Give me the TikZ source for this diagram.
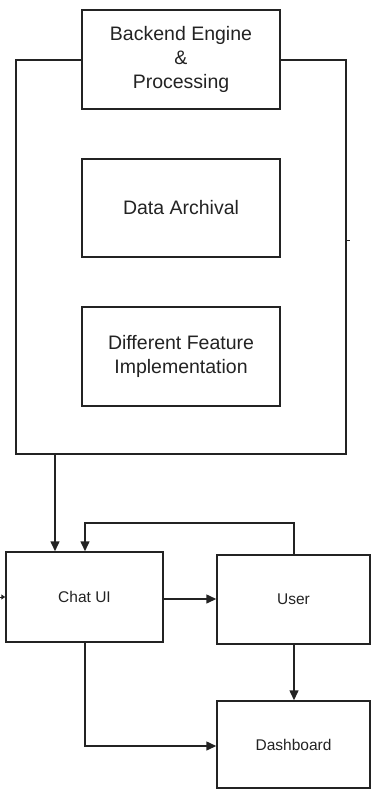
\documentclass[tikz,border=0pt]{standalone}
\usepackage{fontspec}
\setmainfont{Liberation Sans}
\usetikzlibrary{arrows.meta,calc}
\definecolor{ink}{RGB}{35,35,35}
\tikzset{
  box/.style={draw=ink, line width=1.5pt, fill=white, align=center, inner sep=0pt, text=ink},
  bigtext/.style={font=\fontsize{19.5}{24}\selectfont},
  smalltext/.style={font=\fontsize{15.5}{19}\selectfont},
  link/.style={draw=ink, line width=1.5pt, -{Triangle[length=10pt,width=9pt]}},
  plain/.style={draw=ink, line width=1.5pt}
}
\begin{document}
\begin{tikzpicture}[x=1pt,y=-1pt]
\useasboundingbox (0,0) rectangle (371,791);
\clip (0,0) rectangle (371,791);
% container frame around the backend parts
\node[draw=ink, line width=1.5pt, minimum width=330pt, minimum height=394pt, inner sep=0pt] (frame) at (181,257) {};
\node[box, bigtext, minimum width=198pt, minimum height=99pt] (backend) at (181,59.5) {Backend Engine\\\&\\Processing};
\node[box, bigtext, minimum width=198pt, minimum height=98pt] (archive) at (181,208) {Data Archival};
\node[box, bigtext, minimum width=198pt, minimum height=99pt] (feature) at (181,356.5) {Different Feature\\Implementation};
% lower row
\node[box, smalltext, minimum width=157pt, minimum height=90pt] (chat) at (84.5,597) {Chat UI};
\node[box, smalltext, minimum width=153pt, minimum height=89pt] (user) at (293.5,599.5) {User};
\node[box, smalltext, minimum width=153pt, minimum height=87pt] (dash) at (293.5,744.5) {Dashboard};
% stubs
\coordinate (rstub) at (350,241);
\draw[plain, line width=1pt] (frame.east |- rstub) -- (rstub);
\coordinate (lstub) at (-3,597);
\draw[draw=ink, line width=1pt, -{Triangle[length=4pt,width=5pt]}] (lstub) -- (chat.west);
% connectors
\draw[link] (frame.south -| 55,0) -- (chat.north -| 55,0);
\coordinate (loop) at (294,523);
\draw[link] (user.north -| loop) -- (loop) -- (loop -| 85,0) -- (chat.north -| 85,0);
\draw[link] (chat.east |- 0,599) -- (user.west |- 0,599);
\draw[link] (user.south -| 294,0) -- (dash.north -| 294,0);
\coordinate (bend) at (85,746);
\draw[link] (chat.south -| bend) -- (bend) -- (dash.west |- bend);
\end{tikzpicture}
\end{document}
